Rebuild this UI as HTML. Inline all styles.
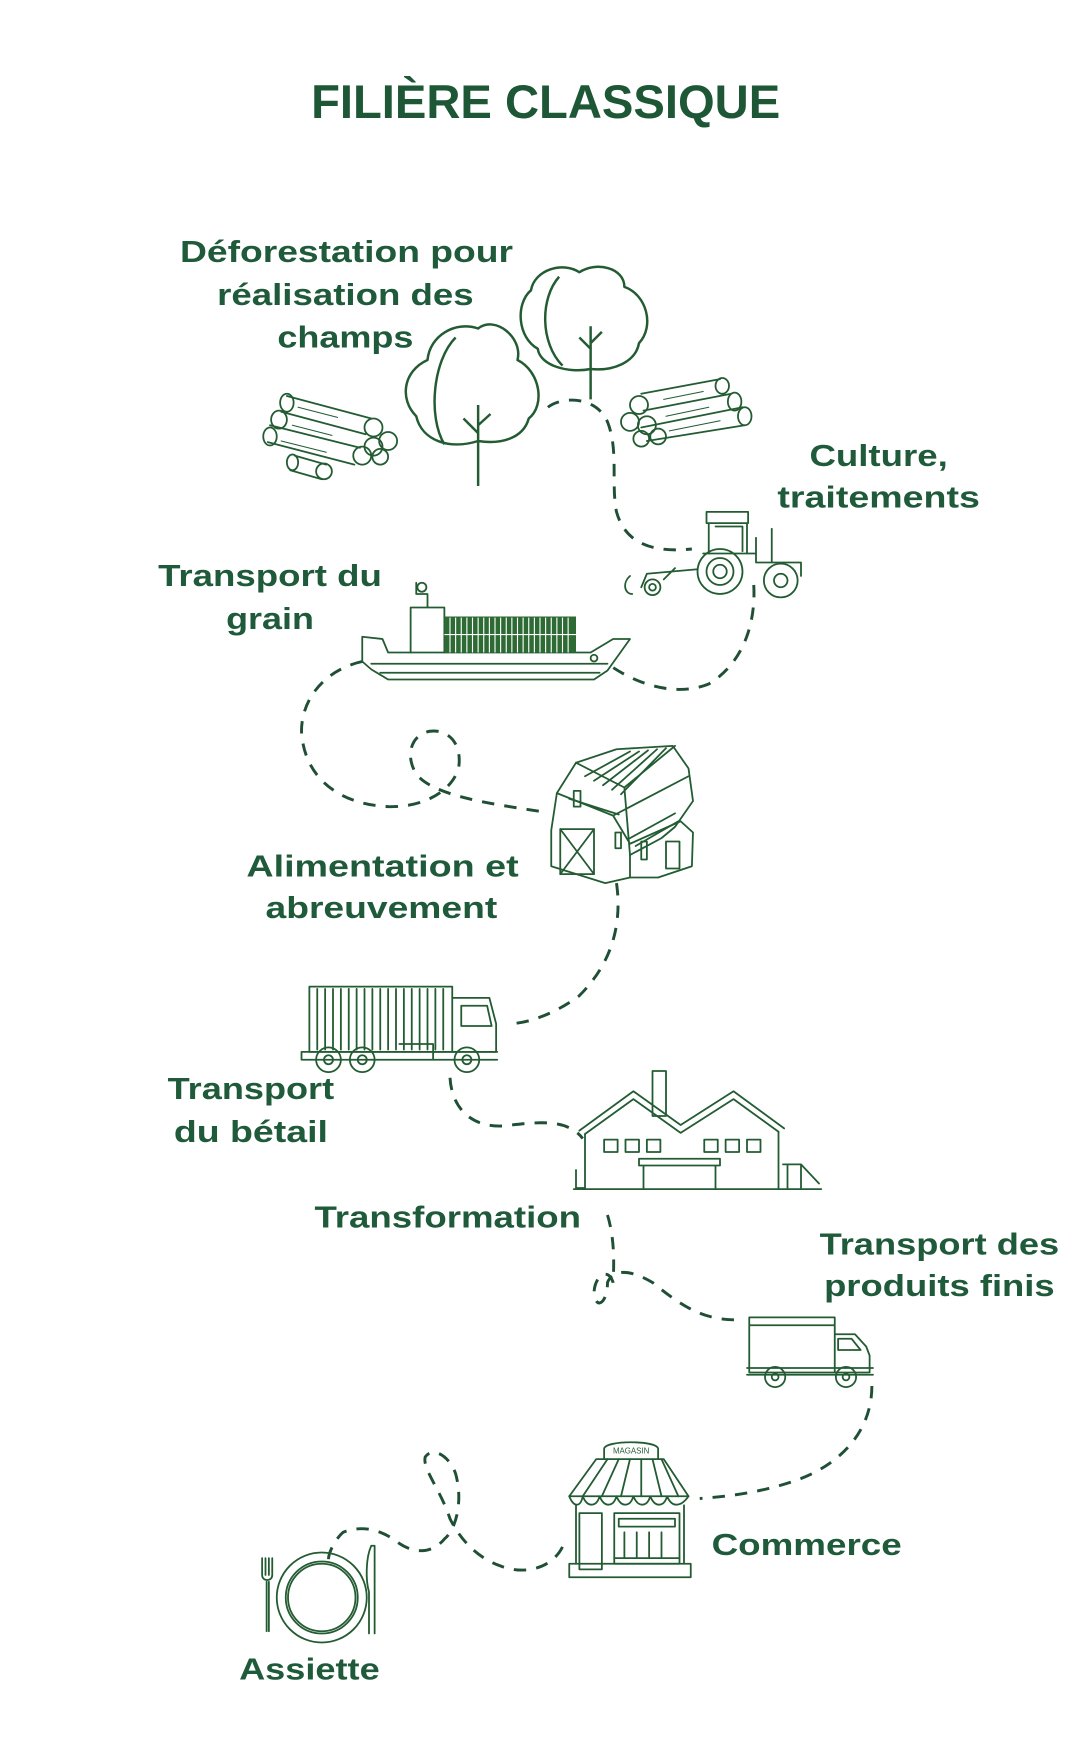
<!DOCTYPE html>
<html><head><meta charset="utf-8"><style>
html,body{margin:0;padding:0;background:#fff;}
svg{display:block;}
.t{font-family:"Liberation Sans",sans-serif;font-weight:bold;fill:#1f5a3a;font-size:27px;text-anchor:middle;}
.i{fill:none;stroke:#235c32;stroke-width:1.6;stroke-linejoin:round;stroke-linecap:round;}
.ib{fill:none;stroke:#235c32;stroke-width:2.2;stroke-linejoin:round;}
.d{fill:none;stroke:#1f4f35;stroke-width:2.6;stroke-dasharray:11 9;stroke-linecap:butt;}
</style></head><body>
<svg width="1080" height="1752" viewBox="0 0 960 1557.33" xmlns="http://www.w3.org/2000/svg">
<text x="485" y="105" class="t" style="font-size:42px;fill:#1d5736" textLength="417" lengthAdjust="spacingAndGlyphs">FILIÈRE CLASSIQUE</text>

<g transform="translate(0,-6)">
<text class="t" x="308" y="239" textLength="296" lengthAdjust="spacingAndGlyphs">Déforestation pour</text>
<text class="t" x="307" y="277" textLength="228" lengthAdjust="spacingAndGlyphs">réalisation des</text>
<text class="t" x="307" y="315" textLength="121" lengthAdjust="spacingAndGlyphs">champs</text>
<text class="t" x="781" y="420" textLength="123" lengthAdjust="spacingAndGlyphs">Culture,</text>
<text class="t" x="781" y="457" textLength="180" lengthAdjust="spacingAndGlyphs">traitements</text>
<text class="t" x="240" y="527" textLength="199" lengthAdjust="spacingAndGlyphs">Transport du</text>
<text class="t" x="240" y="565" textLength="78" lengthAdjust="spacingAndGlyphs">grain</text>
<text class="t" x="340" y="785" textLength="242" lengthAdjust="spacingAndGlyphs">Alimentation et</text>
<text class="t" x="339" y="822" textLength="206" lengthAdjust="spacingAndGlyphs">abreuvement</text>
<text class="t" x="223" y="983" textLength="148" lengthAdjust="spacingAndGlyphs">Transport</text>
<text class="t" x="223" y="1021" textLength="137" lengthAdjust="spacingAndGlyphs">du bétail</text>
<text class="t" x="398" y="1097" textLength="237" lengthAdjust="spacingAndGlyphs">Transformation</text>
<text class="t" x="835" y="1121" textLength="213" lengthAdjust="spacingAndGlyphs">Transport des</text>
<text class="t" x="835" y="1158" textLength="205" lengthAdjust="spacingAndGlyphs">produits finis</text>
<text class="t" x="717" y="1388" textLength="169" lengthAdjust="spacingAndGlyphs">Commerce</text>
<text class="t" x="275" y="1499" textLength="125" lengthAdjust="spacingAndGlyphs">Assiette</text>
</g>

<path class="d" d="M487,362 C500,352 530,352 540,375 C550,400 543,430 548,455 C555,480 575,492 615,488"/>
<path class="d" d="M670,520 C672,555 660,590 630,608 C600,620 565,608 540,590"/>
<path class="d" d="M322,588 C290,595 268,620 268,650 C270,690 300,715 345,717 C380,718 405,700 408,680 C410,660 398,648 382,650 C365,653 360,672 370,688 C385,708 440,715 485,722"/>
<path class="d" d="M548,785 C553,820 545,855 515,885 C495,900 470,910 452,910"/>
<path class="d" d="M400,958 C402,990 425,1005 455,1000 C480,997 505,995 518,1012"/>
<path class="d" d="M540,1080 C546,1100 546,1120 545,1140 C540,1125 528,1135 528,1150 C530,1165 540,1158 540,1140 C545,1128 560,1128 580,1140 C605,1160 625,1175 660,1173"/>
<path class="d" d="M775,1232 C775,1270 750,1300 710,1315 C680,1326 650,1330 622,1332"/>
<path class="d" d="M500,1375 C490,1395 465,1400 445,1392 C425,1385 410,1370 400,1350 C392,1325 375,1305 378,1295 C385,1285 400,1295 405,1310 C412,1335 405,1360 395,1368 C385,1380 370,1382 355,1372 C340,1360 322,1355 305,1362 C298,1368 292,1380 292,1386"/>

<path class="ib" d="M425,432 V360 M425,385 L412,372 M425,378 L436,368
 M425,392 C400,400 375,392 370,370 C355,355 358,330 380,320 C382,298 405,285 425,292 C440,280 465,300 460,320 C480,330 485,360 470,372 C465,390 445,395 425,392 Z
 M405,300 C385,320 380,370 395,395"/>
<path class="ib" d="M525,355 V290 M525,310 L515,300 M525,305 L535,295
 M525,328 C505,332 480,325 478,310 C460,300 458,270 472,258 C475,240 500,232 515,242 C530,232 555,238 555,255 C575,262 582,290 568,305 C565,322 545,330 525,328 Z
 M497,246 C480,265 480,305 500,325"/>

<g class="i">
<path d="M255,352 L330,372 M250,366 L325,386 M240,378 L320,398 M238,393 L315,413"/>
<ellipse cx="255" cy="358" rx="6" ry="8"/><ellipse cx="248" cy="373" rx="7" ry="8"/><ellipse cx="240" cy="388" rx="6" ry="8"/>
<circle cx="332" cy="380" r="8"/><circle cx="345" cy="392" r="8"/><circle cx="332" cy="397" r="8"/><circle cx="322" cy="405" r="8"/><circle cx="338" cy="406" r="7"/>
<path d="M262,405 L290,413 M258,418 L286,426"/><ellipse cx="260" cy="411" rx="5" ry="7"/><circle cx="288" cy="419" r="7"/>
<path d="M265,362 L300,371 M260,378 L295,387 M250,392 L290,402" stroke-width="1"/>
</g>
<g class="i">
<path d="M570,350 L640,337 M572,365 L650,350 M570,380 L660,362 M575,392 L662,378"/>
<circle cx="568" cy="360" r="8"/><circle cx="560" cy="375" r="8"/><circle cx="575" cy="378" r="8"/><circle cx="570" cy="390" r="7"/><circle cx="585" cy="388" r="7"/>
<ellipse cx="642" cy="343" rx="6" ry="7"/><ellipse cx="653" cy="357" rx="6" ry="8"/><ellipse cx="662" cy="370" rx="6" ry="8"/>
<path d="M590,355 L625,348 M592,370 L630,362 M595,383 L640,374" stroke-width="1"/>
</g>

<g class="i">
<path d="M628,455 H665 V465 H628 Z M630,465 V492 M664,465 V492 M636,468 H660 V490"/>
<path d="M625,492 H672 V500 H712 V512 M672,492 V478 M686,470 V500"/>
<circle cx="640" cy="508" r="20"/><circle cx="640" cy="508" r="12"/><circle cx="640" cy="508" r="6"/>
<circle cx="694" cy="516" r="15"/><circle cx="694" cy="516" r="6"/>
<path d="M620,506 L575,510 L570,522 M600,505 L590,515 M560,512 C553,518 555,528 562,528"/>
<circle cx="580" cy="522" r="7"/><circle cx="580" cy="522" r="3"/>
</g>

<g class="i">
<path d="M322,566 L340,568 L345,580 H525 L545,568 H560 L540,596 L528,604 H345 L330,595 L322,588 Z"/>
<path d="M330,590 H540 M338,598 H533"/>
<path d="M365,580 V540 H380 V528 H370 V518 M380,540 H395 V580"/>
<circle cx="375" cy="522" r="4"/>
<circle cx="528" cy="585" r="3"/>
</g>
<rect x="395" y="548" width="117" height="32" fill="#2d6a34"/>
<g stroke="#fff" stroke-width="1">
<path d="M400,549 V580 M405,549 V580 M410,549 V580 M415,549 V580 M420,549 V580 M425,549 V580 M430,549 V580 M435,549 V580 M440,549 V580 M445,549 V580 M450,549 V580 M455,549 V580 M460,549 V580 M465,549 V580 M470,549 V580 M475,549 V580 M480,549 V580 M485,549 V580 M490,549 V580 M495,549 V580 M500,549 V580 M505,549 V580 M395,564 H512"/>
</g>

<g class="i">
<path d="M490,738 L495,705 L512,678 L548,666 L598,663 L612,683 L616,712 L600,735 L588,745 L560,760 L560,780 L538,785 L490,770 Z"/>
<path d="M512,678 L555,700 L600,663 M555,700 L560,760 M495,705 L545,725 L612,690 M545,725 L560,750 L605,730 L616,740 L615,770 L585,780 L560,780"/>
<path d="M520,690 L560,668 M528,694 L568,668 M536,698 L576,667 M544,702 L584,666 M552,706 L592,665 M506,710 L550,724 M560,745 L600,723 M565,752 L603,730"/>
<rect x="498" y="737" width="30" height="40"/><path d="M498,737 L528,777 M528,737 L498,777"/>
<rect x="510" y="703" width="6" height="14"/><rect x="547" y="740" width="5" height="14"/><rect x="570" y="748" width="5" height="16"/><rect x="592" y="748" width="12" height="24"/>
</g>

<g class="i">
<rect x="275" y="877" width="127" height="58"/>
<path d="M282,879 V933 M289,879 V933 M296,879 V933 M303,879 V933 M310,879 V933 M317,879 V933 M324,879 V933 M331,879 V933 M338,879 V933 M345,879 V933 M352,879 V933 M359,879 V933 M366,879 V933 M373,879 V933 M380,879 V933 M387,879 V933 M394,879 V933"/>
<path d="M402,887 H435 L441,910 V935 H402 M410,894 H433 L437,912 H410 Z"/>
<path d="M268,935 H442 M268,935 V942 H442 M355,928 H385 V942"/>
<circle cx="292" cy="942" r="11"/><circle cx="292" cy="942" r="4"/>
<circle cx="322" cy="942" r="11"/><circle cx="322" cy="942" r="4"/>
<circle cx="415" cy="942" r="11"/><circle cx="415" cy="942" r="4"/>
</g>

<g class="i">
<path d="M515,1005 L563,970 L605,1000 L652,970 L697,1003 M520,1008 L563,977 L605,1007 L652,977 L692,1006"/>
<rect x="580" y="952" width="12" height="40"/>
<path d="M520,1008 V1056 M692,1006 V1056 M510,1057 H730"/>
<rect x="537" y="1013" width="12" height="11"/><rect x="556" y="1013" width="12" height="11"/><rect x="575" y="1013" width="12" height="11"/>
<rect x="626" y="1013" width="12" height="11"/><rect x="645" y="1013" width="12" height="11"/><rect x="664" y="1013" width="12" height="11"/>
<path d="M568,1030 H640 V1036 H568 Z M572,1036 V1056 M636,1036 V1056"/>
<path d="M696,1035 H712 L728,1052 M700,1035 V1056 M712,1035 V1056 M512,1040 V1056 H520"/>
</g>

<g class="i">
<path d="M666,1171 H742 V1200 M666,1178 H742 M666,1171 V1220 H773 V1205 L770,1197 L760,1186 H742 V1220"/>
<path d="M745,1190 H757 L765,1200 H745 Z M664,1216 H776 M664,1222 H776"/>
<circle cx="689" cy="1224" r="9"/><circle cx="689" cy="1224" r="3"/>
<circle cx="752" cy="1224" r="9"/><circle cx="752" cy="1224" r="3"/>
</g>

<g class="i">
<path d="M537,1297 V1288 C537,1280 585,1280 585,1288 V1297"/>
<path d="M530,1297 H590 L612,1330 H506 Z"/>
<path d="M540,1297 L518,1330 M550,1297 L535,1330 M560,1297 L552,1330 M570,1297 L570,1330 M580,1297 L588,1330 M588,1297 L603,1330"/>
<path d="M506,1330 C510,1340 516,1340 518,1330 C522,1340 530,1340 533,1330 C537,1340 545,1340 548,1330 C552,1340 560,1340 563,1330 C567,1340 575,1340 578,1330 C582,1340 590,1340 593,1330 C597,1340 605,1340 612,1330"/>
<path d="M512,1338 V1390 M608,1338 V1390"/>
<rect x="515" y="1345" width="20" height="50"/>
<rect x="546" y="1345" width="58" height="45"/>
<rect x="550" y="1350" width="50" height="7"/>
<path d="M555,1362 V1385 M566,1362 V1385 M577,1362 V1385 M588,1362 V1385 M546,1385 H604"/>
<path d="M506,1390 H614 V1402 H506 Z M515,1402 H545"/>
</g>
<text x="561" y="1292" style="font-family:'Liberation Sans',sans-serif;font-size:7px;fill:#235c32;text-anchor:middle">MAGASIN</text>

<g class="i">
<circle cx="286" cy="1420" r="40"/><circle cx="286" cy="1420" r="32"/><circle cx="286" cy="1420" r="30"/>
<path d="M233,1385 V1400 M236,1385 V1400 M239,1385 V1400 M242,1385 V1400 M233,1400 C233,1406 242,1406 242,1400 M237,1406 V1450 M239,1406 V1450"/>
<path d="M330,1374 C325,1385 325,1405 328,1415 V1452 M333,1374 V1452 M330,1374 L333,1374"/>
</g>
</svg>
</body></html>
